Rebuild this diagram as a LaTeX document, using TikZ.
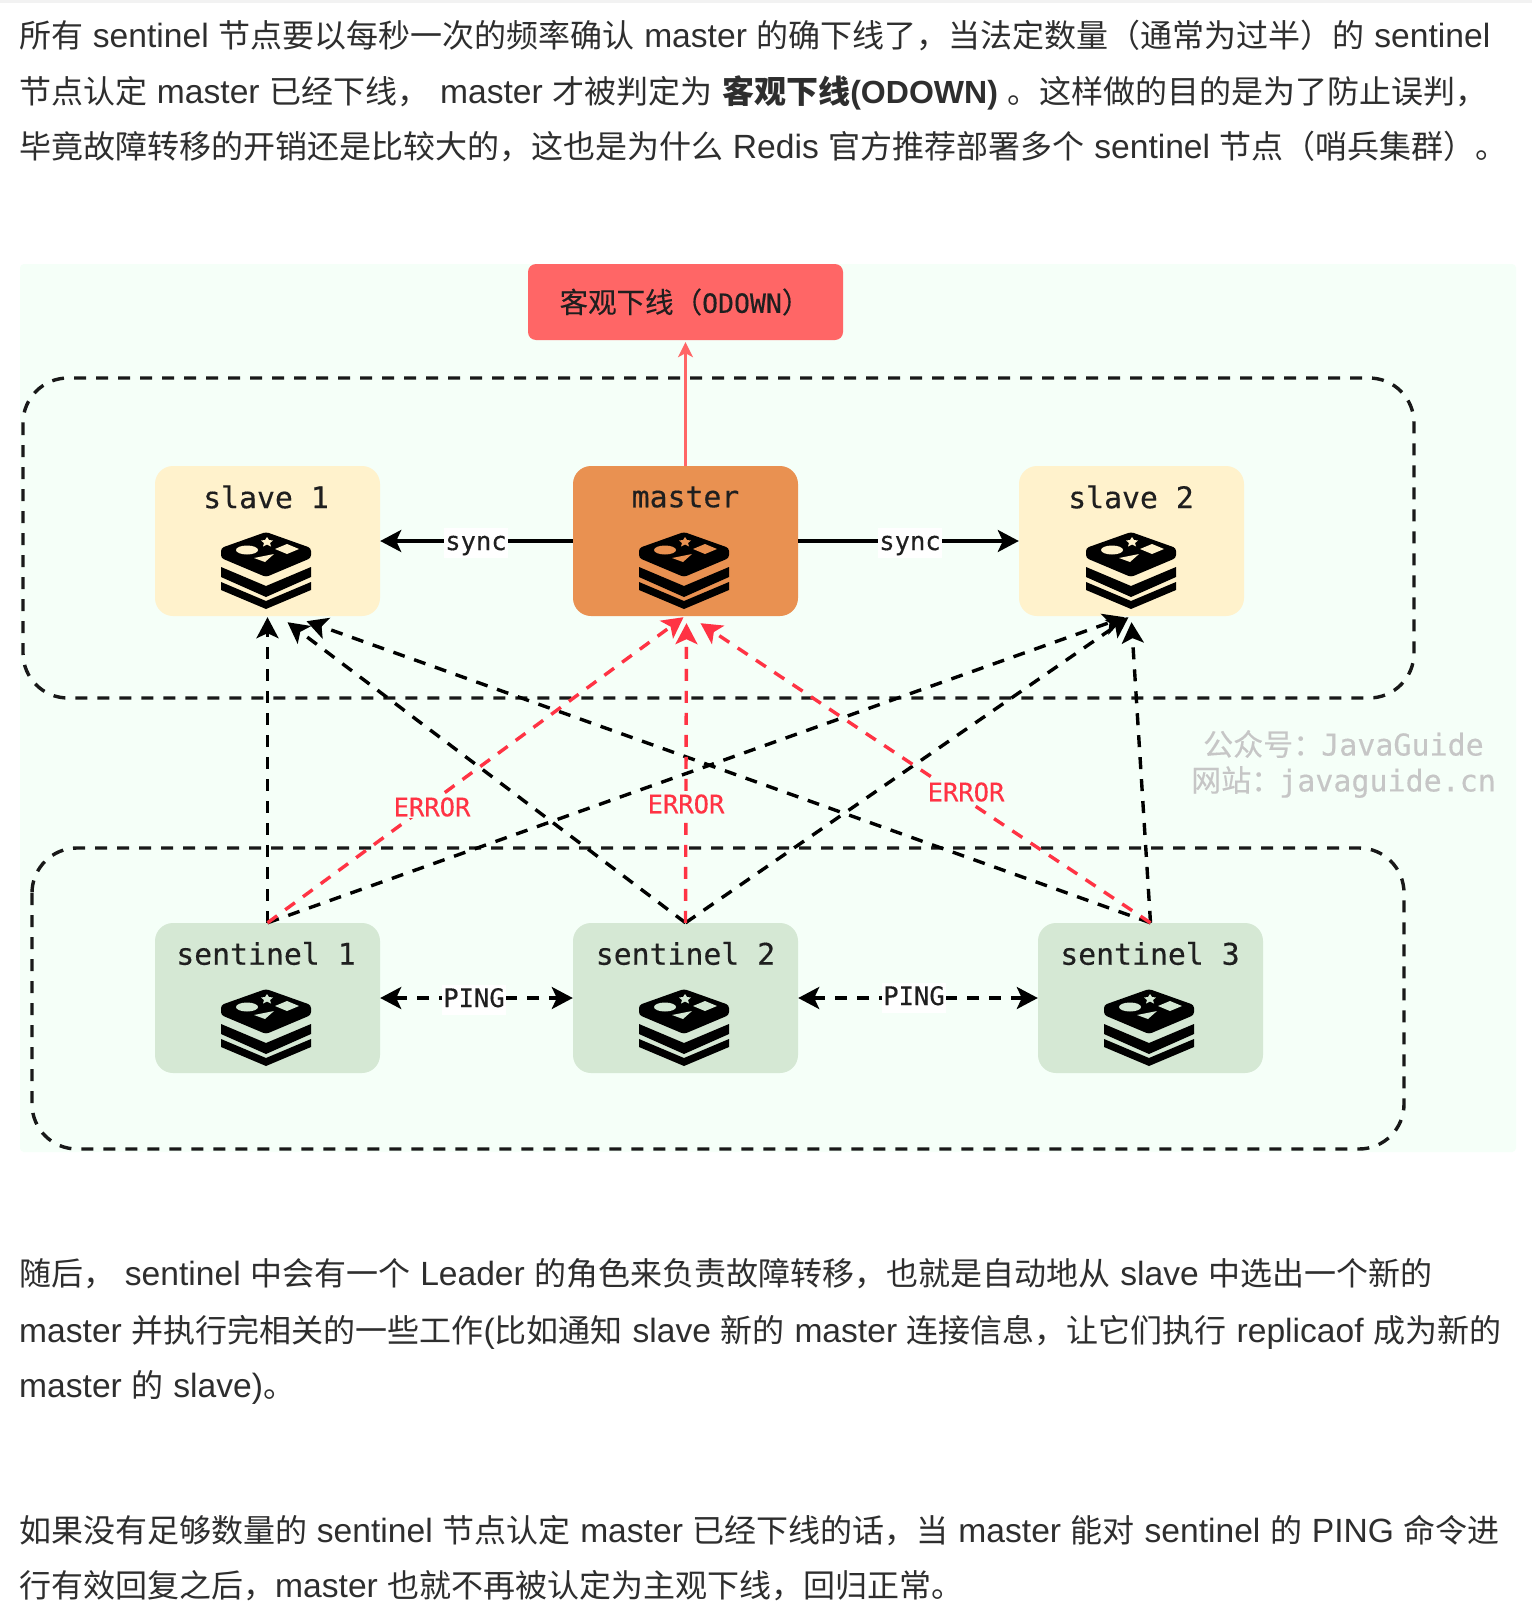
\documentclass[tikz,border=0pt]{standalone}
\usepackage{fontspec}
\setmainfont[WordSpace=1.36]{Noto Sans CJK SC}
\newfontfamily\latf[Scale=1.05]{Liberation Sans}
\newfontfamily\monof[FakeBold=0.35]{DejaVu Sans Mono}
\newfontfamily\cjkd[FakeBold=0.2]{Noto Sans CJK SC}
\newcommand{\la}[1]{{\latf #1}}
\usetikzlibrary{arrows.meta}
\definecolor{mintbg}{HTML}{F5FFF8}
\definecolor{slavec}{HTML}{FFF2CC}
\definecolor{masterc}{HTML}{E99151}
\definecolor{sentc}{HTML}{D5E8D4}
\definecolor{oredc}{HTML}{FF6666}
\definecolor{errc}{HTML}{FF3344}
\definecolor{bodyc}{HTML}{2E2E2E}
\definecolor{wmc}{HTML}{C6C6C6}
\tikzset{
  x=1pt,y=-1pt,
  para/.style={anchor=base west,inner sep=0pt,text=bodyc,font=\fontsize{32}{33}\selectfont},
  box/.style={rounded corners=18pt,minimum width=225pt,minimum height=150pt,inner sep=0pt,draw=none},
  title/.style={inner sep=0pt,text=black!88,font=\monof\fontsize{29.8}{31}\selectfont},
  lab/.style={fill=white,inner sep=1pt,text=black!88,text height=21pt,text depth=7pt,font=\monof\fontsize{25.5}{27}\selectfont},
  errlab/.style={fill=mintbg,inner sep=1pt,text=errc,font=\monof\fontsize{25.5}{27}\selectfont},
  wm/.style={inner sep=0pt,text=wmc,font=\monof\fontsize{30}{31}\selectfont},
  tip/.style={-{Stealth[length=21pt,width=22pt,inset=5pt]}},
  dsh/.style={line width=3.4pt,dash pattern=on 12pt off 10pt},
  bl/.style={tip,dsh,draw=black},
  rd/.style={tip,dsh,draw=errc},
  grp/.style={dsh,draw=black!90,rounded corners=45pt},
  pics/redis/.style={code={
    \fill[black,rounded corners=3pt] (0,-38)--(45,-22)--(45,-12)--(0,7)--(-45,-12)--(-45,-22)--cycle;
    \fill[black] (-45,-3)--(0,16)--(45,-3)--(45,7)--(0,27)--(-45,7)--cycle;
    \fill[black] (-45,12)--(0,31)--(45,12)--(45,20)--(0,39)--(-45,20)--cycle;
    \fill[#1] (-19,-20) ellipse [x radius=11,y radius=4.5];
    \fill[#1] (21,-26)--(33,-21)--(21,-16)--(9,-21)--cycle;
    \fill[#1] (-12,-12)--(8,-16)--(-1,-8)--cycle;
    \fill[#1] (1,-33)--(3,-30)--(7,-29.5)--(4,-27)--(5,-23.5)--(1,-25.5)--(-3,-23.5)--(-2,-27)--(-5,-29.5)--(-1,-30)--cycle;
  }}
}
\begin{document}
\begin{tikzpicture}
\useasboundingbox (0,0) rectangle (1532,1616);
\fill[white] (0,0) rectangle (1532,1616);
\fill[black!5] (0,0) rectangle (1532,3);
% paragraphs
\node[para] (p1) at (19,48) {所有 \la{sentinel} 节点要以每秒一次的频率确认 \la{master} 的确下线了，当法定数量（通常为过半）的 \la{sentinel}};
\node[para] (p2) at (19,104) {节点认定 \la{master} 已经下线， \hspace{1pt}\la{master} 才被判定为 \textbf{客观下线{\latf\fontsize{30.5}{33}\selectfont (ODOWN)}} 。这样做的目的是为了防止误判，};
\node[para] (p3) at (19,159) {毕竟故障转移的开销还是比较大的，这也是为什么 \la{Redis} 官方推荐部署多个 \la{sentinel} 节点（哨兵集群）。};
\node[para] (p4) at (19,1285) {随后， \la{sentinel} 中会有一个 \la{Leader} 的角色来负责故障转移，也就是自动地从 \la{slave} 中选出一个新的};
\node[para] (p5) at (19,1342) {\la{master} 并执行完相关的一些工作\la{(}比如通知 \la{slave} 新的 \la{master} 连接信息，让它们执行 \la{replicaof} 成为新的};
\node[para] (p6) at (19,1397) {\la{master} 的 \la{slave)}。};
\node[para] (p7) at (19,1542) {如果没有足够数量的 \la{sentinel} 节点认定 \la{master} 已经下线的话，当 \la{master} 能对 \la{sentinel} 的 \la{PING} 命令进};
\node[para] (p8) at (19,1597) {行有效回复之后，\la{master} 也就不再被认定为主观下线，回归正常。};
% diagram background
\fill[mintbg,rounded corners=4pt] (20,264) rectangle (1516,1152);
\draw[grp] (23,378) rectangle (1414,698);
\draw[grp] (32,848) rectangle (1404,1149);
% nodes
\node[box,fill=oredc,rounded corners=8pt,minimum width=315pt,minimum height=76pt] (od) at (685.5,302) {};
\node[inner sep=0pt,text=black!88,font=\monof\fontsize{28.5}{29}\selectfont] (odt) at (685,302) {{\cjkd 客观下线（}\fontsize{26.5}{28}\selectfont ODOWN{\cjkd\fontsize{28.5}{29}\selectfont ）}};
\node[box,fill=slavec] (sl1) at (267.5,541) {};
\node[box,fill=masterc] (ma) at (685.5,541) {};
\node[box,fill=slavec] (sl2) at (1131.5,541) {};
\node[box,fill=sentc] (se1) at (267.5,998) {};
\node[box,fill=sentc] (se2) at (685.5,998) {};
\node[box,fill=sentc] (se3) at (1150.5,998) {};
\node[title] (tsl1) at (266,497) {slave 1};
\node[title] (tma) at (685.5,497) {master};
\node[title] (tsl2) at (1131,497) {slave 2};
\node[title] (tse1) at (266,953.5) {sentinel 1};
\node[title] (tse2) at (685.5,953.5) {sentinel 2};
\node[title] (tse3) at (1150,953.5) {sentinel 3};
\pic at (266,570) {redis=slavec};
\pic at (684,570) {redis=masterc};
\pic at (1131,570) {redis=slavec};
\pic at (266,1027) {redis=sentc};
\pic at (684,1027) {redis=sentc};
\pic at (1149,1027) {redis=sentc};
% connectors
\draw[-{Stealth[length=15pt,width=15pt,inset=4pt]},line width=2.4pt,draw=oredc] (ma.north) -- ([yshift=-2pt]od.south);
\draw[tip,line width=3.4pt,draw=black] (ma.west) -- (sl1.east);
\draw[tip,line width=3.4pt,draw=black] (ma.east) -- (sl2.west);
\draw[bl] (se1.north) -- ([yshift=-1pt]sl1.south);
\draw[bl] (se2.north) -- ([xshift=20pt,yshift=-6pt]sl1.south);
\draw[bl] (se3.north) -- ([xshift=39pt,yshift=-5pt]sl1.south);
\draw[bl] (se1.north) -- ([xshift=-7pt,yshift=-1pt]sl2.south);
\draw[bl] (se2.north) -- ([xshift=-3pt,yshift=-1pt]sl2.south);
\draw[bl] (se3.north) -- ([xshift=0pt,yshift=-6pt]sl2.south);
\draw[rd] (se1.north) -- ([xshift=-2pt,yshift=-1pt]ma.south);
\draw[rd] (se2.north) -- ([xshift=1pt,yshift=-7pt]ma.south);
\draw[rd] (se3.north) -- ([xshift=15pt,yshift=-7pt]ma.south);
\draw[{Stealth[length=21pt,width=22pt,inset=5pt]}-{Stealth[length=21pt,width=22pt,inset=5pt]},dsh,draw=black] (se1.east) -- (se2.west);
\draw[{Stealth[length=21pt,width=22pt,inset=5pt]}-{Stealth[length=21pt,width=22pt,inset=5pt]},dsh,draw=black] (se2.east) -- (se3.west);
% labels
\node[lab] (ls1) at (476,543) {sync};
\node[lab] (ls2) at (910,543) {sync};
\node[lab] (lp1) at (474,1000) {PING};
\node[lab] (lp2) at (914,998) {PING};
\node[errlab] (le1) at (432,807) {ERROR};
\node[errlab] (le2) at (686,804) {ERROR};
\node[errlab] (le3) at (966,792) {ERROR};
\node[wm,anchor=west] (wm1) at (1203,744) {{\cjkd 公众号：}\kern-2pt JavaGuide};
\node[wm,anchor=west] (wm2) at (1191,782) {{\cjkd 网站：}\kern-2pt javaguide.cn};
\end{tikzpicture}
\end{document}
